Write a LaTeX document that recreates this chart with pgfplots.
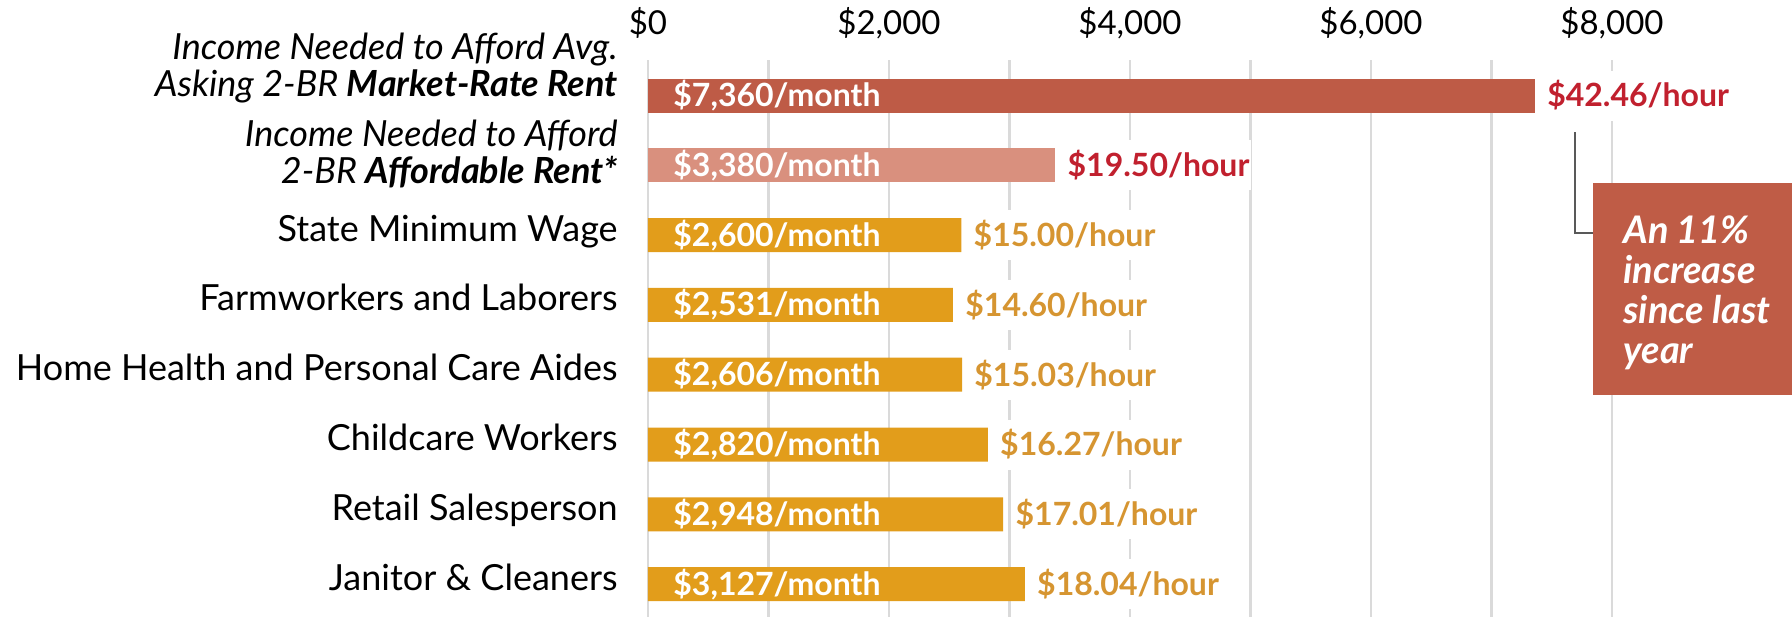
\documentclass[border=0pt]{standalone}
\usepackage{pgfplots}
\pgfplotsset{compat=1.18}
\usepackage{fontspec}
\setmainfont{Lato}
\definecolor{mkt}{HTML}{BE5B46}
\definecolor{aff}{HTML}{D9907E}
\definecolor{gold}{HTML}{E29D1B}
\definecolor{hred}{HTML}{C1202E}
\definecolor{hgold}{HTML}{D69531}
\definecolor{gridc}{HTML}{DADADA}
\definecolor{boxc}{HTML}{BF5C46}
\newcommand{\twoline}[2]{\begin{tabular}[b]{@{}r@{}}#1\\#2\end{tabular}}
\pgfplotsset{
  hourlbl/.style={nodes near coords, point meta=explicit symbolic,
    nodes near coords style={anchor=west, text=#1, fill=white, inner xsep=1pt, inner ysep=0pt,
      minimum height=25pt, xshift=5pt, font=\fontsize{16}{18}\selectfont\bfseries}},
}
\begin{document}
\begin{tikzpicture}
\begin{axis}[
  scale only axis, width=482pt, height=278.5pt,
  xmin=0, xmax=8000, ymin=-0.509, ymax=7.471, y dir=reverse,
  axis line style={draw=none}, major tick length=0pt, minor tick length=0pt,
  xtick={0,2000,4000,6000,8000},
  xticklabels={{\$0},{\$2,000},{\$4,000},{\$6,000},{\$8,000}},
  minor xtick={1000,3000,5000,7000},
  xmajorgrids, xminorgrids,
  major grid style={gridc, line width=1.3pt},
  minor grid style={gridc, line width=1.3pt},
  xticklabel pos=upper,
  xticklabel style={font=\fontsize{16.5}{18}\selectfont, anchor=base, inner sep=0pt, yshift=13pt},
  ytick={0,1,2,3,4,5,6,7},
  yticklabels={
    {\raisebox{2.5pt}{\twoline{\itshape Income Needed to Afford Avg.}{\itshape Asking 2-BR \textbf{Market-Rate Rent}}}},
    {\raisebox{-6.3pt}{\twoline{\itshape Income Needed to Afford}{\itshape 2-BR \textbf{Affordable Rent*}}}},
    {State Minimum Wage},
    {Farmworkers and Laborers},
    {Home Health and Personal Care Aides},
    {Childcare Workers},
    {Retail Salesperson},
    {Janitor \& Cleaners}},
  yticklabel style={anchor=base east, inner sep=0pt, font=\fontsize{18}{17.5}\selectfont, yshift=-3pt, xshift=-15pt},
  clip=false,
]
\addplot[xbar, bar shift=0pt, bar width=0.487, fill=mkt, draw=none, hourlbl=hred]
  coordinates {(7360,0) [\$42.46/hour]};
\addplot[xbar, bar shift=0pt, bar width=0.487, fill=aff, draw=none, hourlbl=hred]
  coordinates {(3380,1) [\$19.50/hour]};
\addplot[xbar, bar shift=0pt, bar width=0.487, fill=gold, draw=none, hourlbl=hgold]
  coordinates {(2600,2) [\$15.00/hour] (2531,3) [\$14.60/hour] (2606,4) [\$15.03/hour]
               (2820,5) [\$16.27/hour] (2948,6) [\$17.01/hour] (3127,7) [\$18.04/hour]};
\addplot[draw=none, mark=none, nodes near coords, point meta=explicit symbolic,
  nodes near coords style={anchor=west, text=white, inner sep=0pt, xshift=12.5pt,
    font=\fontsize{16}{18}\selectfont\bfseries}]
  coordinates {(0,0) [\$7,360/month] (0,1) [\$3,380/month] (0,2) [\$2,600/month]
               (0,3) [\$2,531/month] (0,4) [\$2,606/month] (0,5) [\$2,820/month]
               (0,6) [\$2,948/month] (0,7) [\$3,127/month]};
\fill[boxc] (axis cs:7842,1.254) rectangle (axis cs:9494,4.291);
\draw[color=black!65, line width=0.75pt] (axis cs:7693,0.523) |- (axis cs:7842,1.97);
\node[anchor=base west, text=white, inner sep=0pt, font=\fontsize{19}{20}\selectfont\bfseries\itshape]
  at (axis cs:8091,2.116) {\begin{tabular}[t]{@{}l@{}}An 11\%\\increase\\since last\\year\end{tabular}};
\end{axis}
\pgfresetboundingbox
\path[use as bounding box] (-324pt,0pt) rectangle (572pt,308.5pt);
\end{tikzpicture}
\end{document}
